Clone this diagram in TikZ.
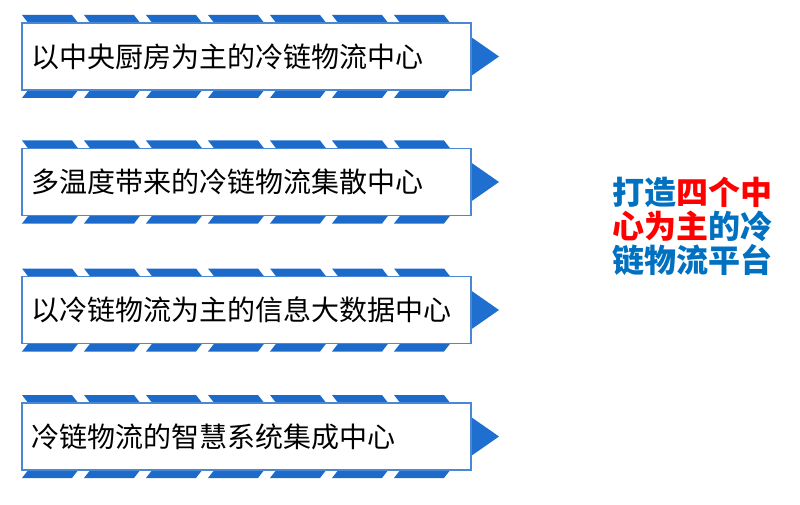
\documentclass[tikz,border=0pt]{standalone}
\usepackage{fontspec}
\newfontfamily\cjk{Noto Sans CJK SC}
\definecolor{stripeblue}{HTML}{1C6BCB}
\definecolor{boxblue}{HTML}{4A88D4}
\definecolor{arrowblue}{HTML}{1E6FD0}
\definecolor{txtblue}{HTML}{0070C0}
\definecolor{txtred}{HTML}{FF0000}
\tikzset{
  stripe/.style={fill=stripeblue},
  tip/.style={fill=arrowblue},
  box/.style={draw=boxblue, line width=1.5pt, fill=white, minimum height=67pt,
    text width=431pt, inner xsep=9pt, align=left,
    font=\cjk\fontsize{28pt}{32pt}\selectfont, text=black},
  title/.style={align=center, font=\cjk\bfseries\fontsize{32pt}{34pt}\selectfont, text=txtblue}
}
\begin{document}
\begin{tikzpicture}[x=1pt,y=-1pt]
\fill[white] (0,0) rectangle (800,505);
\useasboundingbox (0,0) rectangle (800,505);
\foreach \i/\cy/\txt in {1/56.5/以中央厨房为主的冷链物流中心,2/182/多温度带来的冷链物流集散中心,3/310/以冷链物流为主的信息大数据中心,4/436.5/冷链物流的智慧系统集成中心}{
  \fill[tip] (466,\cy-23) -- (499,\cy) -- (466,\cy+23) -- cycle;
  \foreach \k in {0,...,6}{
    \pgfmathsetmacro\xs{22+62*\k}
    \fill[stripe] (\xs,\cy-41.5) -- ++(50,0) -- ++(7,9) -- ++(-50,0) -- cycle;
    \fill[stripe] (\xs,\cy+41.5) -- ++(50,0) -- ++(7,-9) -- ++(-50,0) -- cycle;
  }
  \node[box] (b\i) at (246.5,\cy) {\txt};
}
\node[title] (t) at (692,226) {打造\textcolor{txtred}{四个中}\\\textcolor{txtred}{心为主}的冷\\链物流平台};
\end{tikzpicture}
\end{document}
